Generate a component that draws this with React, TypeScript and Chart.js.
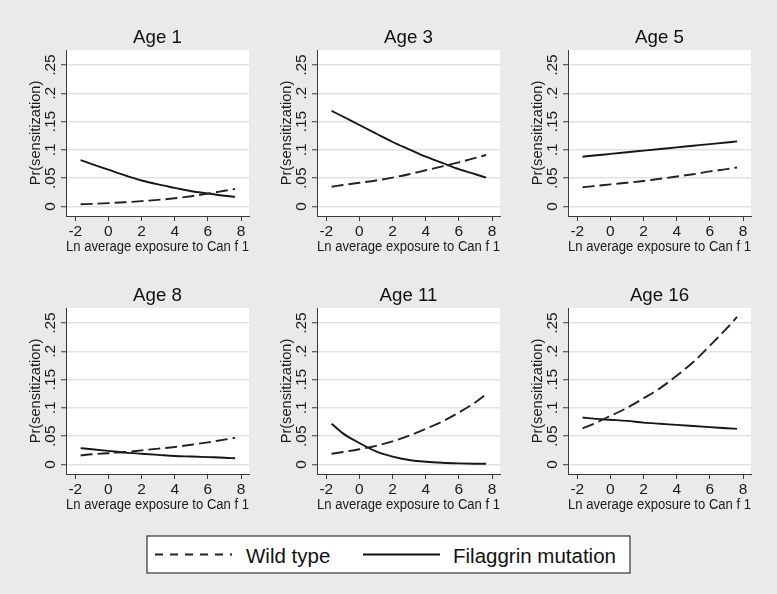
import React, { useEffect, useRef } from "react";
import { Chart, registerables } from "chart.js";

Chart.register(...registerables);

// ---------- data ----------
const exposure = [-1.68, -1, 0, 1, 2, 3, 4, 5, 6, 7, 7.64];
const ageTitles = ["Age 1", "Age 3", "Age 5", "Age 8", "Age 11", "Age 16"];
const seriesNames = ["Wild type", "Filaggrin mutation"];

const wildAge1 = [0.004, 0.0047, 0.006, 0.0075, 0.0094, 0.0117, 0.0146, 0.0182, 0.0227, 0.0278, 0.031];
const filAge1 = [0.082, 0.075, 0.065, 0.055, 0.046, 0.039, 0.033, 0.027, 0.023, 0.019, 0.017];

const wildAge3 = [0.035, 0.038, 0.042, 0.046, 0.051, 0.057, 0.064, 0.071, 0.078, 0.086, 0.091];
const filAge3 = [0.169, 0.159, 0.144, 0.129, 0.114, 0.101, 0.088, 0.077, 0.066, 0.057, 0.051];

const wildAge5 = [0.034, 0.036, 0.039, 0.042, 0.045, 0.049, 0.053, 0.057, 0.062, 0.066, 0.069];
const filAge5 = [0.088, 0.09, 0.0929, 0.0958, 0.0987, 0.1016, 0.1045, 0.1074, 0.1103, 0.1131, 0.115];

const wildAge8 = [0.016, 0.018, 0.02, 0.022, 0.025, 0.028, 0.031, 0.035, 0.039, 0.044, 0.047];
const filAge8 = [0.029, 0.027, 0.024, 0.021, 0.019, 0.017, 0.015, 0.014, 0.013, 0.012, 0.011];

const wildAge11 = [0.019, 0.022, 0.027, 0.033, 0.041, 0.051, 0.063, 0.076, 0.092, 0.11, 0.124];
const filAge11 = [0.072, 0.055, 0.038, 0.023, 0.014, 0.008, 0.0048, 0.003, 0.002, 0.0014, 0.0012];

const wildAge16 = [0.064, 0.072, 0.086, 0.1, 0.117, 0.135, 0.157, 0.181, 0.21, 0.24, 0.261];
const filAge16 = [0.083, 0.081, 0.079, 0.077, 0.074, 0.072, 0.07, 0.068, 0.066, 0.064, 0.063];

const wildSeries = [wildAge1, wildAge3, wildAge5, wildAge8, wildAge11, wildAge16];
const filSeries = [filAge1, filAge3, filAge5, filAge8, filAge11, filAge16];

const xTicks = [-2, 0, 2, 4, 6, 8];
const yTicks = [0, 0.05, 0.1, 0.15, 0.2, 0.25];
const yTickLabels = ["0", ".05", ".1", ".15", ".2", ".25"];
const xAxisTitle = "Ln average exposure to Can f 1";
const yAxisTitle = "Pr(sensitization)";

// ---------- style ----------
const FONT = "'Liberation Sans', Arial, Helvetica, sans-serif";
const BG = "#eaeaea";
const INK = "#161616";
const AXIS = "#3a3a3a";
const PANEL_W = 251;
const PANEL_H = 258;
const COL_LEFT = [0, 251, 502];
const ROW_TOP = [0, 258];

const plotBg = {
  id: "plotBg",
  beforeDraw(chart: any) {
    const { ctx, chartArea } = chart;
    if (!chartArea) return;
    ctx.save();
    ctx.fillStyle = "#ffffff";
    ctx.fillRect(chartArea.left, chartArea.top, chartArea.right - chartArea.left, chartArea.bottom - chartArea.top);
    ctx.restore();
  },
};

function Panel({ idx }: { idx: number }) {
  const ref = useRef<HTMLCanvasElement | null>(null);
  useEffect(() => {
    if (!ref.current) return;
    const mk = (vals: number[]) => exposure.map((x, i) => ({ x, y: vals[i] }));
    const chart = new Chart(ref.current, {
      type: "line",
      data: {
        datasets: [
          {
            label: seriesNames[0],
            data: mk(wildSeries[idx]),
            borderColor: "#222222",
            borderWidth: 1.9,
            borderDash: [12, 5],
            pointRadius: 0,
            fill: false,
            cubicInterpolationMode: "monotone",
          },
          {
            label: seriesNames[1],
            data: mk(filSeries[idx]),
            borderColor: INK,
            borderWidth: 1.9,
            pointRadius: 0,
            fill: false,
            cubicInterpolationMode: "monotone",
          },
        ],
      },
      options: {
        responsive: false,
        animation: false,
        devicePixelRatio: 1,
        layout: { padding: { left: 0, right: 2, top: 0, bottom: 0 } },
        plugins: {
          legend: { display: false },
          tooltip: { enabled: false },
          title: {
            display: true,
            text: ageTitles[idx],
            fullSize: false,
            color: "#111",
            font: { family: FONT, size: 18.7, weight: "normal", lineHeight: 1.2 },
            padding: { top: 27, bottom: 0.6 },
          },
        },
        scales: {
          x: {
            type: "linear",
            min: -2.56,
            max: 8.48,
            afterBuildTicks: (s: any) => {
              s.ticks = xTicks.map((v) => ({ value: v }));
            },
            afterFit: (s: any) => {
              s.height = 42;
            },
            grid: { drawOnChartArea: false, drawTicks: true, tickLength: 5, tickColor: AXIS, tickWidth: 1 },
            border: { display: true, color: AXIS, width: 1 },
            ticks: {
              font: { family: FONT, size: 15.5, lineHeight: 1.2 },
              color: "#1a1a1a",
              padding: 1.5,
              maxRotation: 0,
              autoSkip: false,
              callback: (v: any) => String(v),
            },
            title: {
              display: true,
              text: xAxisTitle,
              color: "#1a1a1a",
              font: { family: FONT, size: 14.7, lineHeight: 1.2 },
              padding: { top: 0, bottom: 2.2 },
            },
          },
          y: {
            type: "linear",
            min: -0.0168,
            max: 0.2765,
            afterBuildTicks: (s: any) => {
              s.ticks = yTicks.map((v) => ({ value: v }));
            },
            afterFit: (s: any) => {
              s.width = 66;
            },
            grid: {
              color: "#e2e2e2",
              lineWidth: 1.5,
              drawTicks: true,
              tickLength: 5,
              tickColor: AXIS,
              tickWidth: 1,
            },
            border: { display: true, color: AXIS, width: 1 },
            ticks: {
              font: { family: FONT, size: 15.5 },
              color: "#1a1a1a",
              padding: 0,
              minRotation: 90,
              maxRotation: 90,
              crossAlign: "center",
              autoSkip: false,
              callback: (v: any) => {
                const i = yTicks.findIndex((t) => Math.abs(t - v) < 1e-9);
                return i >= 0 ? yTickLabels[i] : "";
              },
            },
            title: {
              display: true,
              text: yAxisTitle,
              color: "#1a1a1a",
              font: { family: FONT, size: 14.6, lineHeight: 1.2 },
              padding: { top: 27.2, bottom: 0 },
            },
          },
        },
      },
      plugins: [plotBg],
    } as any);
    return () => chart.destroy();
  }, [idx]);
  const col = idx % 3;
  const row = Math.floor(idx / 3);
  return (
    <canvas
      ref={ref}
      width={PANEL_W}
      height={PANEL_H}
      style={{
        position: "absolute",
        left: COL_LEFT[col],
        top: ROW_TOP[row],
        width: PANEL_W,
        height: PANEL_H,
      }}
    />
  );
}

function Legend() {
  return (
    <svg
      width={485}
      height={39}
      style={{ position: "absolute", left: 146, top: 535 }}
    >
      <rect x={1} y={1} width={483} height={37} fill="#ffffff" stroke="#333" strokeWidth={1.2} />
      <line x1={9} y1={19.5} x2={86} y2={19.5} stroke="#222" strokeWidth={1.9} strokeDasharray="8 7" />
      <text x={100} y={28.3} fontFamily={FONT} fontSize={20.5} fill="#111">
        {seriesNames[0]}
      </text>
      <line x1={217} y1={19.5} x2={294} y2={19.5} stroke="#111" strokeWidth={1.9} />
      <text x={307} y={28.3} fontFamily={FONT} fontSize={20.5} fill="#111">
        {seriesNames[1]}
      </text>
    </svg>
  );
}

export default function App() {
  useEffect(() => {
    document.body.style.margin = "0";
  }, []);
  return (
    <div
      style={{
        position: "absolute",
        left: 0,
        top: 0,
        width: 777,
        height: 594,
        background: BG,
        overflow: "hidden",
      }}
    >
      {ageTitles.map((_, i) => (
        <Panel key={i} idx={i} />
      ))}
      <Legend />
    </div>
  );
}
